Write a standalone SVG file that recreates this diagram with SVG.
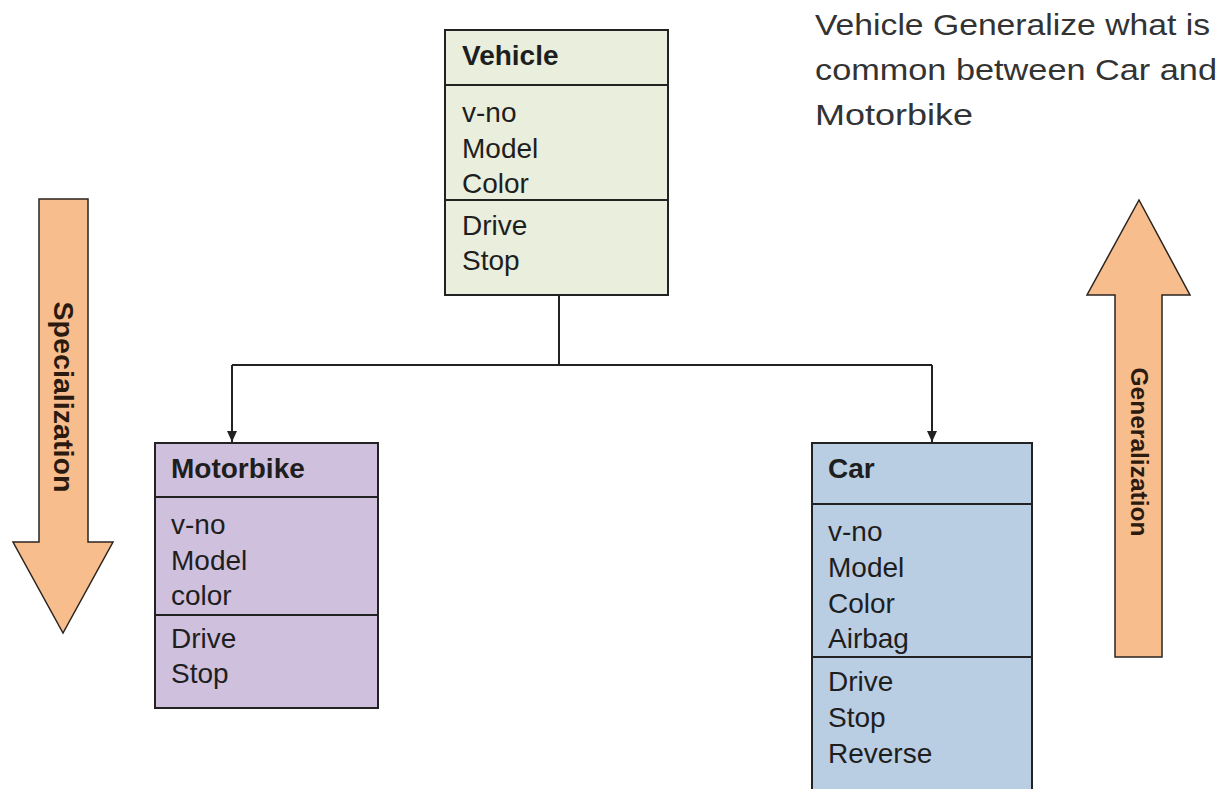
<svg xmlns="http://www.w3.org/2000/svg" width="1224" height="789" viewBox="0 0 1224 789">
<defs>
<marker id="arr" markerWidth="12" markerHeight="12" refX="11" refY="6" orient="auto" markerUnits="userSpaceOnUse">
<path d="M0,1 L11,6 L0,11 Z" fill="#222"/>
</marker>
<style>
.box{stroke:#222;stroke-width:2}
.div{stroke:#222;stroke-width:2}
.t{font-family:"Liberation Sans",Arial,sans-serif;font-size:28px;fill:#1e1e1e}
.b{font-weight:bold}
.big{stroke:#2a2420;stroke-width:1.5;fill:#f8bd8c}
.lab{font-family:"Liberation Sans",Arial,sans-serif;font-weight:bold;fill:#2a1a10}
.note{font-family:"Liberation Sans",Arial,sans-serif;font-size:30px;fill:#333}
.con{stroke:#222;stroke-width:2;fill:none}
</style>
</defs>
<rect width="1224" height="789" fill="#fff"/>

<g id="connectors">
<path class="con" d="M559,295 V365"/>
<path class="con" d="M232,365 H932"/>
<path class="con" d="M232,365 V442" marker-end="url(#arr)"/>
<path class="con" d="M932,365 V442" marker-end="url(#arr)"/>
</g>

<g id="vehicle">
<rect class="box" x="445" y="30" width="223" height="265" fill="#e9eedd"/>
<line class="div" x1="445" y1="85" x2="668" y2="85"/>
<line class="div" x1="445" y1="200" x2="668" y2="200"/>
<text class="t b" x="462" y="65">Vehicle</text>
<text class="t" x="462" y="122">v-no</text>
<text class="t" x="462" y="158">Model</text>
<text class="t" x="462" y="193">Color</text>
<text class="t" x="462" y="235">Drive</text>
<text class="t" x="462" y="270">Stop</text>
</g>

<g id="motorbike">
<rect class="box" x="155" y="443" width="223" height="265" fill="#cfc0dd"/>
<line class="div" x1="155" y1="497" x2="378" y2="497"/>
<line class="div" x1="155" y1="615" x2="378" y2="615"/>
<text class="t b" x="171" y="478">Motorbike</text>
<text class="t" x="171" y="534">v-no</text>
<text class="t" x="171" y="570">Model</text>
<text class="t" x="171" y="605">color</text>
<text class="t" x="171" y="648">Drive</text>
<text class="t" x="171" y="683">Stop</text>
</g>

<g id="car">
<rect class="box" x="812" y="443" width="220" height="360" fill="#b9cde3"/>
<line class="div" x1="812" y1="504" x2="1032" y2="504"/>
<line class="div" x1="812" y1="657" x2="1032" y2="657"/>
<text class="t b" x="828" y="478">Car</text>
<text class="t" x="828" y="541">v-no</text>
<text class="t" x="828" y="577">Model</text>
<text class="t" x="828" y="613">Color</text>
<text class="t" x="828" y="648">Airbag</text>
<text class="t" x="828" y="691">Drive</text>
<text class="t" x="828" y="727">Stop</text>
<text class="t" x="828" y="763">Reverse</text>
</g>

<g id="specialization">
<path class="big" d="M39,199 H88 V542 H113 L63,633 L13,542 H39 Z"/>
<text class="lab" font-size="27" transform="translate(54,397) rotate(90)" text-anchor="middle" textLength="191" lengthAdjust="spacingAndGlyphs">Specialization</text>
</g>

<g id="generalization">
<path class="big" d="M1115,657 V295 H1087 L1139,200 L1190,295 H1162 V657 Z"/>
<text class="lab" font-size="24" transform="translate(1131,452) rotate(90)" text-anchor="middle" textLength="169" lengthAdjust="spacingAndGlyphs">Generalization</text>
</g>

<g id="note">
<text class="note" x="815" y="35" textLength="395" lengthAdjust="spacingAndGlyphs">Vehicle Generalize what is</text>
<text class="note" x="815" y="80" textLength="402" lengthAdjust="spacingAndGlyphs">common between Car and</text>
<text class="note" x="815" y="125" textLength="158" lengthAdjust="spacingAndGlyphs">Motorbike</text>
</g>
</svg>
